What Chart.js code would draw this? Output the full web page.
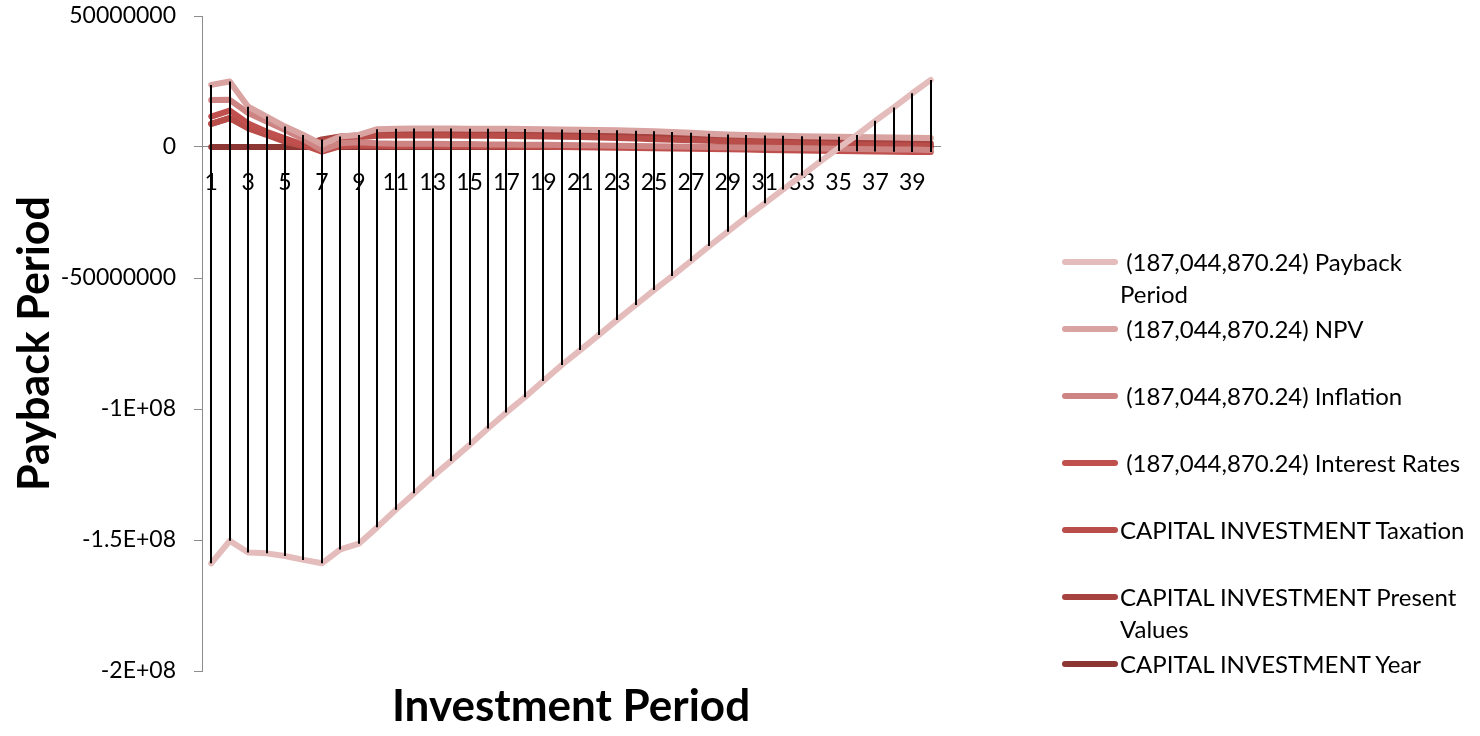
<!DOCTYPE html>
<html>
<head>
<meta charset="utf-8">
<title>Payback Period</title>
<script src="https://cdn.jsdelivr.net/npm/chart.js@4.4.1/dist/chart.umd.min.js"></script>
<style>
  html, body { margin: 0; padding: 0; background: #ffffff; }
  #wrap { position: relative; width: 1480px; height: 736px; overflow: hidden; }
  #chart { position: absolute; left: 0; top: 0; }
  #legend {
    position: absolute; left: 1062px; top: 246px; width: 418px;
    font-family: Lato, "Open Sans", sans-serif; font-size: 24px; color: #000;
  }
  #legend .item { display: flex; align-items: flex-start; height: 67px; }
  #legend .swatch { flex: none; width: 56px; height: 6px; border-radius: 3px; margin-top: 13px; }
  #legend .txt { margin-left: 2px; line-height: 32px; width: 349px; white-space: pre-wrap; }
</style>
</head>
<body>
<div id="wrap">
  <canvas id="chart" width="1480" height="736"></canvas>
  <div id="legend"></div>
</div>
<script>
// Investment periods (category axis)
const periods = [1, 2, 3, 4, 5, 6, 7, 8, 9, 10, 11, 12, 13, 14, 15, 16, 17, 18, 19, 20,
                 21, 22, 23, 24, 25, 26, 27, 28, 29, 30, 31, 32, 33, 34, 35, 36, 37, 38, 39, 40];

// Series names
const seriesNames = [
  ' (187,044,870.24) Payback Period',
  ' (187,044,870.24) NPV',
  ' (187,044,870.24) Inflation',
  ' (187,044,870.24) Interest Rates',
  'CAPITAL INVESTMENT Taxation',
  'CAPITAL INVESTMENT Present Values',
  'CAPITAL INVESTMENT Year'
];

// Series values
const paybackPeriod = [
  -158.9e6, -150.3e6, -154.8e6, -155.1e6, -156.1e6, -157.6e6, -158.9e6, -153.6e6, -151.4e6, -145.1e6,
  -138.5e6, -132.2e6, -125.8e6, -119.8e6, -113.7e6, -107.4e6, -101.3e6, -95.5e6, -89.3e6, -83.2e6,
  -77.5e6, -71.8e6, -66.0e6, -60.3e6, -54.6e6, -49.2e6, -43.5e6, -37.8e6, -32.3e6, -26.8e6,
  -21.5e6, -16.2e6, -10.9e6, -5.6e6, -0.4e6, 4.6e6, 10.0e6, 15.1e6, 20.5e6, 25.6e6
];
const npv = [
  23.7e6, 25.0e6, 15.4e6, 11.6e6, 7.8e6, 4.6e6, 1.0e6, 4.0e6, 4.6e6, 6.8e6,
  7.0e6, 7.1e6, 7.1e6, 7.1e6, 7.0e6, 7.0e6, 7.0e6, 6.9e6, 6.8e6, 6.7e6,
  6.6e6, 6.5e6, 6.4e6, 6.2e6, 6.0e6, 5.7e6, 5.4e6, 5.1e6, 4.8e6, 4.6e6,
  4.4e6, 4.3e6, 4.1e6, 4.0e6, 3.9e6, 3.8e6, 3.7e6, 3.6e6, 3.5e6, 3.4e6
];
const inflation = [
  17.9e6, 18.0e6, 13.0e6, 9.7e6, 6.5e6, 3.0e6, -1.2e6, 1.4e6, 1.8e6, 1.4e6,
  1.2e6, 1.2e6, 1.2e6, 1.1e6, 1.1e6, 1.0e6, 1.0e6, 0.9e6, 0.9e6, 0.8e6,
  0.7e6, 0.6e6, 0.5e6, 0.4e6, 0.3e6, 0.2e6, 0.1e6, 0.0e6, -0.1e6, -0.2e6,
  -0.3e6, -0.4e6, -0.5e6, -0.6e6, -0.7e6, -0.8e6, -0.9e6, -1.0e6, -1.0e6, -1.1e6
];
const interestRates = [
  11.6e6, 13.9e6, 9.0e6, 5.8e6, 3.3e6, 0.8e6, -1.8e6, 0.3e6, 0.6e6, 0.5e6,
  0.4e6, 0.4e6, 0.4e6, 0.3e6, 0.3e6, 0.2e6, 0.2e6, 0.1e6, 0.1e6, 0.0e6,
  -0.1e6, -0.2e6, -0.3e6, -0.4e6, -0.5e6, -0.6e6, -0.7e6, -0.8e6, -0.9e6, -1.0e6,
  -1.1e6, -1.2e6, -1.3e6, -1.4e6, -1.5e6, -1.6e6, -1.7e6, -1.8e6, -1.9e6, -1.9e6
];
const taxation = [
  8.8e6, 11.0e6, 7.1e6, 4.6e6, 2.0e6, 0.3e6, 2.0e6, 3.3e6, 3.7e6, 4.3e6,
  4.4e6, 4.4e6, 4.4e6, 4.4e6, 4.3e6, 4.3e6, 4.2e6, 4.1e6, 4.0e6, 3.9e6,
  3.8e6, 3.6e6, 3.4e6, 3.2e6, 3.0e6, 2.8e6, 2.6e6, 2.4e6, 2.2e6, 2.0e6,
  1.8e6, 1.6e6, 1.4e6, 1.2e6, 1.0e6, 0.9e6, 0.8e6, 0.7e6, 0.6e6, 0.5e6
];
const presentValues = [
  8.8e6, 11.0e6, 7.6e6, 5.0e6, 2.6e6, 0.6e6, 2.9e6, 4.0e6, 4.4e6, 5.2e6,
  5.3e6, 5.3e6, 5.3e6, 5.3e6, 5.2e6, 5.2e6, 5.1e6, 5.0e6, 4.9e6, 4.8e6,
  4.7e6, 4.5e6, 4.3e6, 4.1e6, 3.9e6, 3.7e6, 3.5e6, 3.3e6, 3.1e6, 2.9e6,
  2.7e6, 2.5e6, 2.3e6, 2.1e6, 1.9e6, 1.7e6, 1.6e6, 1.5e6, 1.4e6, 1.3e6
];
const year = [
  0, 0, 0, 0, 0, 0, 0, 0, 0, 0, 0, 0, 0, 0, 0, 0, 0, 0, 0, 0,
  0, 0, 0, 0, 0, 0, 0, 0, 0, 0, 0, 0, 0, 0, 0, 0, 0, 0, 0, 0
];

// Value-axis tick values
const yTicks = [50000000, 0, -50000000, -100000000, -150000000, -200000000];

const seriesValues = [paybackPeriod, npv, inflation, interestRates, taxation, presentValues, year];
const seriesColors = ['#e4bcbb', '#d9a3a2', '#cd8483', '#c0504d', '#b94d4a', '#a6423f', '#8c3734'];

const FONT = 'Lato, "Open Sans", sans-serif';

// Spreadsheet "General" style number text: large magnitudes in E notation
function generalNumber(v) {
  if (v === 0) return '0';
  const a = Math.abs(v);
  if (a >= 1e8) {
    const exp = Math.floor(Math.log10(a) + 1e-9);
    const m = parseFloat((v / Math.pow(10, exp)).toFixed(5));
    return m + 'E+' + String(exp).padStart(2, '0');
  }
  return String(v);
}

// Vertical high-low lines joining the highest and lowest series value of each period
const highLowLines = {
  id: 'highLowLines',
  afterDatasetsDraw(chart) {
    const { ctx, scales: { x, y } } = chart;
    ctx.save();
    ctx.strokeStyle = '#000000';
    ctx.lineWidth = 2;
    chart.data.labels.forEach((_, i) => {
      const vals = chart.data.datasets.map(d => d.data[i]);
      const hi = Math.max(...vals);
      const lo = Math.min(...vals);
      const px = Math.round(x.getPixelForValue(i));
      ctx.beginPath();
      ctx.moveTo(px, y.getPixelForValue(hi));
      ctx.lineTo(px, y.getPixelForValue(lo));
      ctx.stroke();
    });
    ctx.restore();
  }
};

// Legend on the right, built from the chart's datasets
const htmlLegend = {
  id: 'htmlLegend',
  afterUpdate(chart) {
    const box = document.getElementById('legend');
    box.innerHTML = '';
    chart.data.datasets.forEach(ds => {
      const item = document.createElement('div');
      item.className = 'item';
      const sw = document.createElement('span');
      sw.className = 'swatch';
      sw.style.background = ds.borderColor;
      const txt = document.createElement('span');
      txt.className = 'txt';
      txt.textContent = ds.label;
      item.appendChild(sw);
      item.appendChild(txt);
      box.appendChild(item);
    });
  }
};

const datasets = seriesNames.map((name, k) => ({
  label: name,
  data: seriesValues[k],
  borderColor: seriesColors[k],
  backgroundColor: seriesColors[k],
  borderWidth: 6,
  pointRadius: 0,
  pointHoverRadius: 0,
  tension: 0,
  fill: false,
  borderJoinStyle: 'round',
  borderCapStyle: 'round'
}));

new Chart(document.getElementById('chart'), {
  type: 'line',
  data: { labels: periods, datasets },
  options: {
    responsive: false,
    animation: false,
    events: [],
    layout: { padding: { left: 0, right: 540, top: 16, bottom: 2.6 } },
    plugins: {
      legend: { display: false },
      tooltip: { enabled: false },
      title: {
        display: true,
        text: 'Investment Period',
        position: 'bottom',
        fullSize: false,
        color: '#000000',
        font: { family: FONT, size: 44, weight: 'bold' },
        padding: { top: 9.6, bottom: 0 }
      }
    },
    scales: {
      x: {
        type: 'category',
        position: { y: 0 },
        offset: true,
        grid: { display: false },
        border: { display: true, color: '#8c8c8c', width: 1 },
        ticks: {
          autoSkip: false,
          maxRotation: 0,
          minRotation: 0,
          padding: 14,
          color: '#000000',
          font: { family: FONT, size: 23 },
          callback(value, index) { return index % 2 === 0 ? this.getLabelForValue(value) : ''; }
        },
        afterFit(scale) { scale.height = 0; }
      },
      y: {
        min: -200000000,
        max: 50000000,
        afterBuildTicks(scale) { scale.ticks = yTicks.map(v => ({ value: v })); },
        grid: { drawOnChartArea: false, drawTicks: true, tickLength: 8, color: '#8c8c8c' },
        border: { display: true, color: '#8c8c8c', width: 1 },
        ticks: {
          padding: 18,
          color: '#000000',
          font: { family: FONT, size: 23 },
          callback: v => generalNumber(v)
        },
        title: {
          display: true,
          text: 'Payback Period',
          color: '#000000',
          font: { family: FONT, size: 43, weight: 'bold' },
          padding: { top: 9.2, bottom: 0 }
        },
        afterFit(scale) {
          scale.width = 202;
          scale.paddingTop = 0;
          scale.paddingBottom = 0;
        }
      }
    }
  },
  plugins: [highLowLines, htmlLegend]
});
</script>
</body>
</html>
